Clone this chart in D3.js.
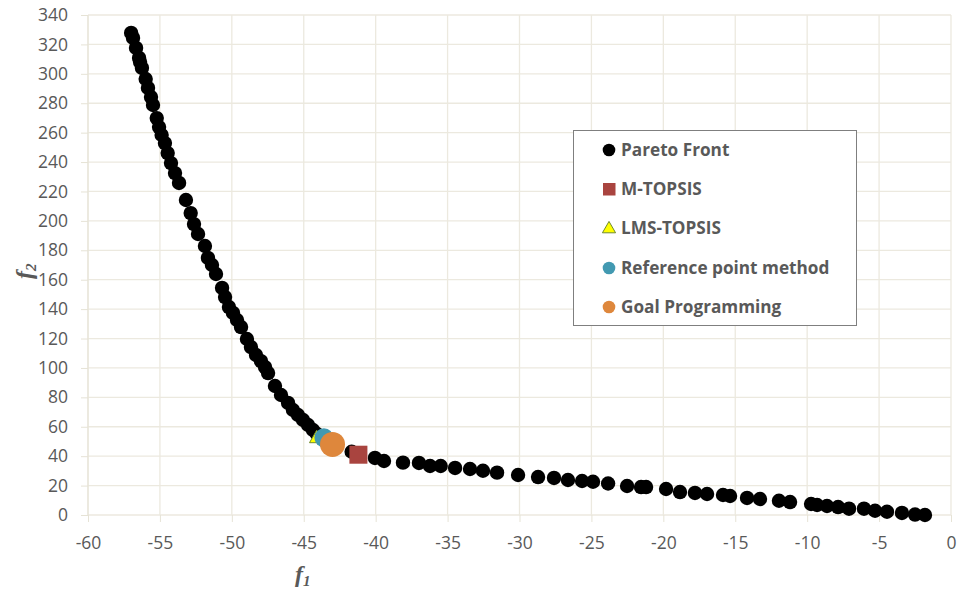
<!DOCTYPE html>
<html>
<head>
<meta charset="utf-8">
<script src="https://cdn.jsdelivr.net/npm/d3@7"></script>
<style>
  body { margin: 0; background: #fff; }
  .axis text { font-family: "Open Sans", sans-serif; font-size: 17.5px; fill: #595959; }
  .axis path, .axis line { stroke: #e6e3d6; }
</style>
</head>
<body>
<div id="chart"></div>
<script>
// Pareto front (f1, f2)
var paretoF1 = [-57.0, -56.87, -56.66, -56.45, -56.38, -56.25, -55.99, -55.83, -55.62, -55.48,
  -55.22, -55.06, -54.88, -54.65, -54.46, -54.23, -53.95, -53.67, -53.19, -52.86,
  -52.63, -52.35, -51.87, -51.66, -51.38, -51.10, -50.68, -50.47, -50.20, -49.92,
  -49.64, -49.36, -48.95, -48.67, -48.32, -47.97, -47.69, -47.48, -47.00, -46.58,
  -46.09, -45.75, -45.40, -45.05, -44.70, -44.36, -44.08, -41.67, -40.05, -39.42,
  -38.10, -36.99, -36.22, -35.48, -34.48, -33.44, -32.54, -31.56, -30.10, -28.71,
  -27.60, -26.63, -25.65, -24.89, -23.84, -22.52, -21.55, -21.20, -19.81, -18.84,
  -17.80, -16.96, -15.85, -15.36, -14.18, -13.28, -11.96, -11.19, -9.73, -9.31,
  -8.62, -7.85, -7.09, -6.05, -5.28, -4.45, -3.41, -2.50, -1.81];
var paretoF2 = [327.8, 324.4, 317.6, 310.8, 308.0, 304.0, 296.5, 290.4, 284.2, 278.8,
  269.9, 263.8, 258.4, 252.9, 246.1, 239.3, 232.5, 225.8, 214.2, 205.3,
  197.8, 191.1, 182.9, 174.8, 170.0, 163.9, 154.4, 148.2, 141.4, 137.4,
  132.6, 127.8, 119.7, 114.2, 108.8, 104.6, 100.5, 96.5, 87.7, 81.6,
  76.2, 71.4, 68.0, 64.6, 61.2, 57.8, 55.1, 43.0, 38.8, 36.7,
  35.6, 35.4, 33.3, 33.3, 32.0, 31.3, 30.1, 28.8, 27.2, 25.8,
  25.2, 23.8, 23.1, 22.6, 21.4, 19.7, 19.0, 19.0, 17.7, 15.6,
  15.0, 14.3, 13.6, 12.9, 11.6, 10.9, 9.7, 8.8, 7.5, 6.8,
  6.1, 5.4, 4.3, 4.3, 2.9, 2.2, 1.4, 0.3, 0.0];

var seriesNames = ["Pareto Front", "M-TOPSIS", "LMS-TOPSIS", "Reference point method", "Goal Programming"];
var mTopsis = [-41.2, 41];
var lmsTopsis = [-44.1, 52];
var refPoint = [-43.6, 52.5];
var goalProg = [-43.0, 48];

var xTicks = [-60, -55, -50, -45, -40, -35, -30, -25, -20, -15, -10, -5, 0];
var yTicks = [0, 20, 40, 60, 80, 100, 120, 140, 160, 180, 200, 220, 240, 260, 280, 300, 320, 340];

var w = 957, h = 589;
var plotL = 88, plotR = 951, plotT = 15, plotB = 515;

var svg = d3.select("#chart").append("svg")
  .attr("width", w).attr("height", h);

var x = d3.scaleLinear().domain([-60, 0]).range([plotL, plotR]);
var y = d3.scaleLinear().domain([0, 340]).range([plotB, plotT]);

// gridlines
svg.append("g").selectAll("line").data(yTicks).enter().append("line")
  .attr("x1", plotL).attr("x2", plotR)
  .attr("y1", function(d) { return y(d); }).attr("y2", function(d) { return y(d); })
  .attr("stroke", "#ece9df").attr("stroke-width", 1.3);
svg.append("g").selectAll("line").data(xTicks).enter().append("line")
  .attr("x1", function(d) { return x(d); }).attr("x2", function(d) { return x(d); })
  .attr("y1", plotT).attr("y2", plotB)
  .attr("stroke", "#ece9df").attr("stroke-width", 1.3);

// axes
var fmt = function(d) { return String(d); };
var xAxis = d3.axisBottom(x).tickValues(xTicks).tickFormat(fmt).tickSize(7).tickPadding(15);
var yAxis = d3.axisLeft(y).tickValues(yTicks).tickFormat(fmt).tickSize(7).tickPadding(13);

svg.append("g").attr("class", "axis")
  .attr("transform", "translate(0," + plotB + ")")
  .call(xAxis)
  .call(function(g) { g.select(".domain").remove(); });

svg.append("g").attr("class", "axis")
  .attr("transform", "translate(" + plotL + ",0)")
  .call(yAxis)
  .call(function(g) { g.select(".domain").attr("d", "M0," + plotT + "V" + plotB); });

// axis titles
var xt = svg.append("text").attr("x", 295).attr("y", 582)
  .attr("font-family", "Liberation Serif, serif").attr("font-style", "italic").attr("font-weight", "bold")
  .attr("font-size", 24).attr("fill", "#595959");
xt.append("tspan").text("f");
xt.append("tspan").attr("font-size", 15).attr("dy", 4).text("1");

var yt = svg.append("text").attr("transform", "translate(32,279) rotate(-90)")
  .attr("font-family", "Liberation Serif, serif").attr("font-style", "italic").attr("font-weight", "bold")
  .attr("font-size", 24).attr("fill", "#595959");
yt.append("tspan").text("f");
yt.append("tspan").attr("font-size", 15).attr("dy", 4).text("2");

// Pareto front
svg.append("g").selectAll("circle").data(d3.range(paretoF1.length)).enter().append("circle")
  .attr("cx", function(i) { return x(paretoF1[i]); })
  .attr("cy", function(i) { return y(paretoF2[i]); })
  .attr("r", 7.2)
  .attr("fill", "#000");

// M-TOPSIS
svg.append("rect")
  .attr("x", x(mTopsis[0]) - 9).attr("y", y(mTopsis[1]) - 9)
  .attr("width", 18).attr("height", 18)
  .attr("fill", "#a9443f");

// LMS-TOPSIS
var tri = d3.symbol().type(d3.symbolTriangle).size(90);
svg.append("path").attr("d", tri)
  .attr("transform", "translate(" + x(lmsTopsis[0]) + "," + y(lmsTopsis[1]) + ")")
  .attr("fill", "#ffff00").attr("stroke", "#6f8a2e").attr("stroke-width", 1);

// Reference point
svg.append("circle")
  .attr("cx", x(refPoint[0])).attr("cy", y(refPoint[1])).attr("r", 9.5)
  .attr("fill", "#4299b1");

// Goal programming
svg.append("circle")
  .attr("cx", x(goalProg[0])).attr("cy", y(goalProg[1])).attr("r", 12.5)
  .attr("fill", "#de873c");

// legend
var lg = svg.append("g");
lg.append("rect").attr("x", 573.5).attr("y", 130.5).attr("width", 283).attr("height", 195)
  .attr("fill", "#fff").attr("stroke", "#7f7f7f").attr("stroke-width", 1);

var rowY = [150, 189, 228, 268, 307];
seriesNames.forEach(function(name, i) {
  var cy = rowY[i], cx = 609;
  if (i === 0) lg.append("circle").attr("cx", cx).attr("cy", cy).attr("r", 6.3).attr("fill", "#000");
  if (i === 1) lg.append("rect").attr("x", cx - 6).attr("y", cy - 6).attr("width", 12.5).attr("height", 12.5).attr("fill", "#a9443f");
  if (i === 2) lg.append("path").attr("d", d3.symbol().type(d3.symbolTriangle).size(75))
    .attr("transform", "translate(" + cx + "," + (cy + 1) + ")")
    .attr("fill", "#ffff00").attr("stroke", "#6f8a2e").attr("stroke-width", 1);
  if (i === 3) lg.append("circle").attr("cx", cx).attr("cy", cy).attr("r", 6.3).attr("fill", "#4299b1");
  if (i === 4) lg.append("circle").attr("cx", cx).attr("cy", cy).attr("r", 6.3).attr("fill", "#de873c");
  lg.append("text").attr("x", 621).attr("y", cy + 6)
    .attr("font-family", "Open Sans, sans-serif").attr("font-weight", "bold")
    .attr("font-size", 17.2).attr("fill", "#595959")
    .text(name);
});
</script>
</body>
</html>
